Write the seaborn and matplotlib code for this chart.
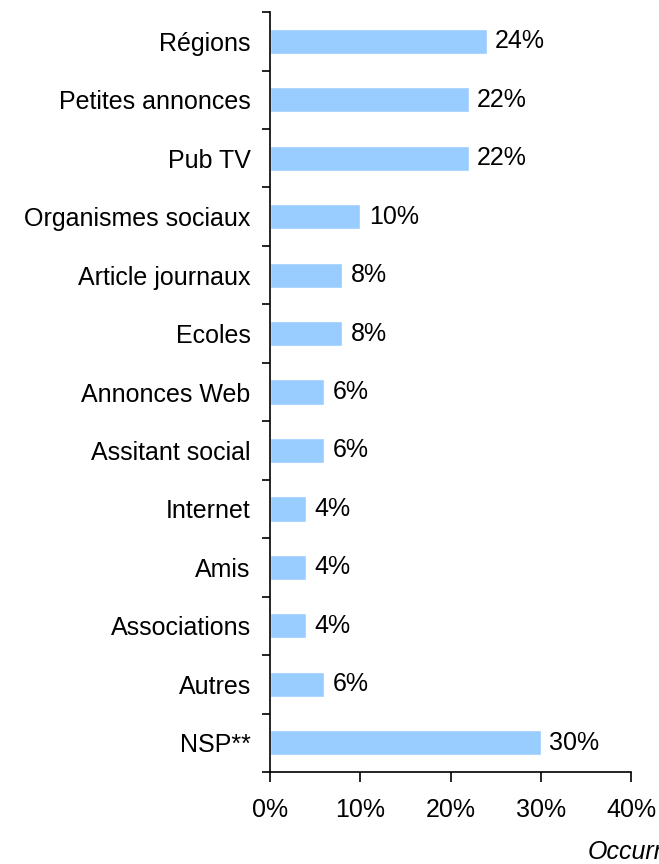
import numpy as np
import pandas as pd
import seaborn as sns
import matplotlib.pyplot as plt
from matplotlib.ticker import FixedLocator

categories = ["Régions", "Petites annonces", "Pub TV", "Organismes sociaux",
              "Article journaux", "Ecoles", "Annonces Web", "Assitant social",
              "Internet", "Amis", "Associations", "Autres", "NSP**"]
values = [24, 22, 22, 10, 8, 8, 6, 6, 4, 4, 4, 6, 30]
x_ticks = [0, 10, 20, 30, 40]

sns.set_style("ticks")
plt.rcParams['font.family'] = ['Liberation Sans', 'DejaVu Sans']
plt.rcParams['text.color'] = 'black'
plt.rcParams['xtick.color'] = 'black'
plt.rcParams['ytick.color'] = 'black'

df = pd.DataFrame({"source": categories, "pct": values})

fig = plt.figure(figsize=(6.59, 8.64), dpi=100)
ax = fig.add_axes([0.41, 0.1065, 0.5475, 0.8795])
sns.barplot(data=df, x="pct", y="source", color="#99CCFF", saturation=1,
            width=0.43, ax=ax)

ax.set_xlim(0, 40)
ax.set_ylim(len(categories) - 0.5, -0.5)
ax.set_xticks(x_ticks)
ax.set_xticklabels([f"{t}%" for t in x_ticks], fontsize=18)
ax.set_xlabel("")
ax.set_ylabel("")
ax.tick_params(axis="x", direction="out", length=7, width=1.2, pad=12)
ax.tick_params(axis="y", which="major", length=0, pad=14, labelsize=18)
ax.yaxis.set_minor_locator(FixedLocator(np.arange(-0.5, len(categories), 1)))
ax.tick_params(axis="y", which="minor", direction="out", length=6, width=1.2)
for side in ["top", "right"]:
    ax.spines[side].set_visible(False)
for side in ["left", "bottom"]:
    ax.spines[side].set_linewidth(1.2)
    ax.spines[side].set_color("black")

ax.bar_label(ax.containers[0], labels=[f"{v}%" for v in values],
             padding=6, fontsize=18)

fig.text(588 / 659, 1 - 852 / 864, "Occurrences", fontsize=18, style="italic",
         ha="left", va="center")

fig.savefig("out.png", dpi=100)
